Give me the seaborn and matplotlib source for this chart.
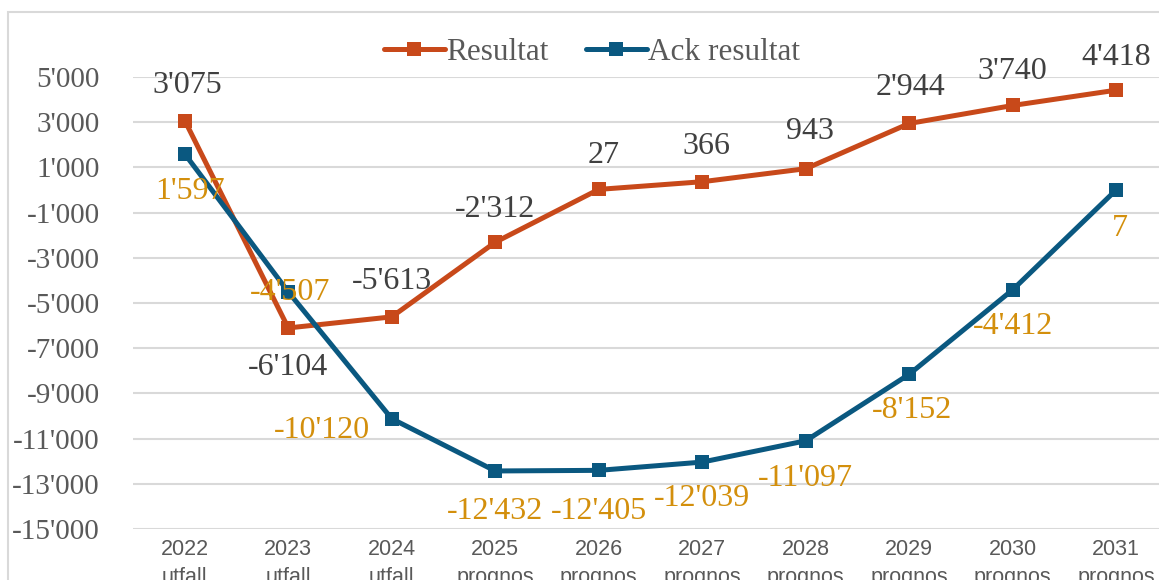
import seaborn as sns
import pandas as pd
import numpy as np
import matplotlib.pyplot as plt
from matplotlib.lines import Line2D
from matplotlib.patches import Rectangle

years = ['2022', '2023', '2024', '2025', '2026', '2027', '2028', '2029', '2030', '2031']
kinds = ['utfall', 'utfall', 'utfall', 'prognos', 'prognos', 'prognos',
         'prognos', 'prognos', 'prognos', 'prognos']
resultat = [3075, -6104, -5613, -2312, 27, 366, 943, 2944, 3740, 4418]
ack_resultat = [1597, -4507, -10120, -12432, -12405, -12039, -11097, -8152, -4412, 7]
series_names = ['Resultat', 'Ack resultat']
y_ticks = [5000, 3000, 1000, -1000, -3000, -5000, -7000, -9000, -11000, -13000, -15000]

# label offsets in pixels (dx, dy) relative to the point
res_offsets = [(3, 35), (0, -40), (0, 35), (0, 33), (5, 34), (4, 35), (4, 37), (1, 36), (0, 34), (0, 33)]
ack_offsets = [(5, -38), (2, -1), (-70, -12), (0, -41), (0, -41), (0, -36), (0, -38), (3, -36), (0, -37), (4, -39)]

c_res = '#C8491A'
c_ack = '#0A5880'
c_lab_res = '#404040'
c_lab_ack = '#D38F0C'

df = pd.DataFrame({
    'pos': list(range(len(years))) * 2,
    'value': resultat + ack_resultat,
    'series': [series_names[0]] * len(years) + [series_names[1]] * len(years),
})

sns.set_style('white')
plt.rcParams['font.family'] = ['Liberation Serif', 'DejaVu Serif']

fig = plt.figure(figsize=(11.59, 5.8), dpi=100)
ax = fig.add_axes([133 / 1159, 51 / 580, 1035 / 1159, 452 / 580])

sns.lineplot(data=df, x='pos', y='value', hue='series', palette=[c_res, c_ack],
             marker='s', markersize=10.5, markeredgewidth=0, linewidth=3.6,
             legend=False, ax=ax, zorder=3)

ax.set_xlim(-0.5, 9.5)
ax.set_ylim(-15000, 5000)
ax.set_yticks(y_ticks)
ax.set_yticklabels([f"{v:,}".replace(',', "'") for v in y_ticks])
ax.set_xticks(range(len(years)))
ax.set_xticklabels([f'{y}\n{k}' for y, k in zip(years, kinds)],
                   family='Liberation Sans', fontsize=15.5, color='#595959', linespacing=1.45,
                   va='top')
ax.tick_params(axis='y', length=0, pad=24, labelsize=21, labelcolor='#595959')
ax.tick_params(axis='x', length=0, pad=7)
ax.grid(axis='y', color='#D9D9D9', linewidth=1.5)
ax.set_axisbelow(True)
for s in ax.spines.values():
    s.set_visible(False)
ax.set_xlabel('')
ax.set_ylabel('')

def fmt(v):
    return f"{v:,}".replace(',', "'")

for i, v in enumerate(resultat):
    dx, dy = res_offsets[i]
    ax.annotate(fmt(v), (i, v), xytext=(dx, dy), textcoords='offset pixels',
                ha='center', va='center', fontsize=23, color=c_lab_res,
                annotation_clip=False)
for i, v in enumerate(ack_resultat):
    dx, dy = ack_offsets[i]
    ax.annotate(fmt(v), (i, v), xytext=(dx, dy), textcoords='offset pixels',
                ha='center', va='center', fontsize=23, color=c_lab_ack,
                annotation_clip=False)

handles = [Line2D([], [], color=c, linewidth=3.6, marker='s', markersize=10.5,
                  markeredgewidth=0) for c in (c_res, c_ack)]
fig.legend(handles, series_names, loc='center', bbox_to_anchor=(592 / 1159, 1 - 52 / 580),
           ncol=2, frameon=False, fontsize=22.5, handlelength=1.95, handletextpad=0.05,
           columnspacing=1.2, labelcolor='#595959')

fig.patches.append(Rectangle((8 / 1159, -0.1), 1.2, 1.1 - 12 / 580, transform=fig.transFigure,
                             fill=False, edgecolor='#D9D9D9', linewidth=1.5))

fig.savefig('out.png', dpi=100)
